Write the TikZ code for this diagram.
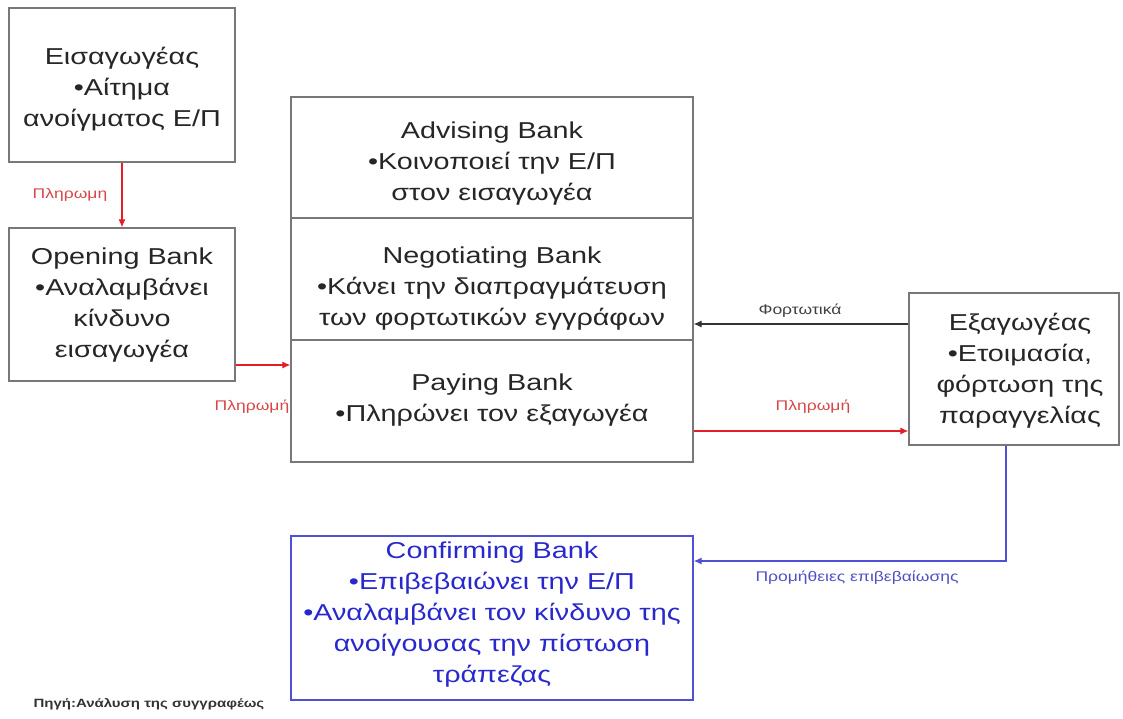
\documentclass[tikz,border=0pt]{standalone}
\usepackage{fontspec}
\setmainfont{Liberation Sans}[FakeStretch=1.25]
\usetikzlibrary{arrows.meta}
\definecolor{boxgray}{RGB}{120,120,120}
\definecolor{payred}{RGB}{226,30,40}
\definecolor{labred}{RGB}{215,70,70}
\definecolor{confblue}{RGB}{40,40,205}
\definecolor{lineblue}{RGB}{80,80,215}
\definecolor{labblue}{RGB}{80,80,195}
\begin{document}
\begin{tikzpicture}[x=1pt,y=-1pt,
  box/.style={draw=boxgray, line width=1.3pt, inner sep=0pt},
  txt/.style={align=center, font=\fontsize{23}{31}\selectfont, text=black!85},
  lbl/.style={font=\fontsize{14}{16}\selectfont},
  arr/.style={-{Latex[length=8pt,width=7pt]}, line width=1.1pt}]
\useasboundingbox (0,0) rectangle (1123,718);

% boxes
\node[box, minimum width=226pt, minimum height=154pt] (imp) at (122,85) {};
\node[box, minimum width=226pt, minimum height=153pt] (open) at (122,304.5) {};
\node[box, minimum width=402pt, minimum height=121pt] (adv) at (492,157.5) {};
\node[box, minimum width=402pt, minimum height=122pt] (neg) at (492,279) {};
\node[box, minimum width=402pt, minimum height=122pt] (pay) at (492,401) {};
\node[box, minimum width=210pt, minimum height=152pt] (exp) at (1014,369) {};
\node[box, draw=lineblue, minimum width=402pt, minimum height=164pt] (conf) at (492,618) {};

% box texts
\node[txt] (impT) at (122,89) {Εισαγωγέας\\•Αίτημα\\ανοίγματος Ε/Π};
\node[txt] (openT) at (122,305) {Opening Bank\\•Αναλαμβάνει\\κίνδυνο\\εισαγωγέα};
\node[txt] (advT) at (492,164) {Advising Bank\\•Κοινοποιεί την Ε/Π\\στον εισαγωγέα};
\node[txt] (negT) at (492,289) {Negotiating Bank\\•Κάνει την διαπραγμάτευση\\των φορτωτικών εγγράφων};
\node[txt] (payT) at (492,400) {Paying Bank\\•Πληρώνει τον εξαγωγέα};
\node[txt] (expT) at (1020,371) {Εξαγωγέας\\•Ετοιμασία,\\φόρτωση της\\παραγγελίας};
\node[txt, text=confblue] (confT) at (492,615) {Confirming Bank\\•Επιβεβαιώνει την Ε/Π\\•Αναλαμβάνει τον κίνδυνο της\\ανοίγουσας την πίστωση\\τράπεζας};

% connector heights
\coordinate (r1) at (0,365);
\coordinate (f1) at (0,324);
\coordinate (r2) at (0,431);
\coordinate (c1) at (1006,561);

% connectors
\draw[arr, payred] (imp.south) -- (open.north);
\draw[arr, payred] (open.east |- r1) -- (pay.west |- r1);
\draw[arr, black!80] (exp.west |- f1) -- (neg.east |- f1);
\draw[arr, payred] (pay.east |- r2) -- (exp.west |- r2);
\draw[arr, lineblue] (exp.south -| c1) -- (c1) -- (conf.east |- c1);

% connector labels
\node[lbl, text=labred] (l1) at (70,195) {Πληρωμη};
\node[lbl, text=labred] (l2) at (252,407) {Πληρωμή};
\node[lbl, text=black!75] (l3) at (800,311) {Φορτωτικά};
\node[lbl, text=labred] (l4) at (813,407) {Πληρωμή};
\node[lbl, text=labblue] (l5) at (857,578) {Προμήθειες επιβεβαίωσης};

% source note
\node[font=\fontsize{12}{14}\selectfont\bfseries, text=black!80, anchor=west] (src) at (30,704) {Πηγή:Ανάλυση της συγγραφέως};
\end{tikzpicture}
\end{document}
